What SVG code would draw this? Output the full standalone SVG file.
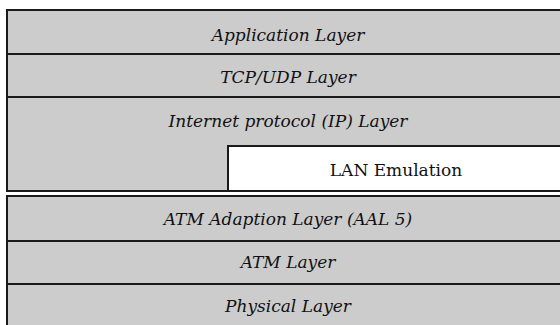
<svg xmlns="http://www.w3.org/2000/svg" width="560" height="325" viewBox="0 0 560 325">
<style>
.box{fill:#cccccc;stroke:#1a1a1a;stroke-width:2}
.sep{stroke:#1a1a1a;stroke-width:2;fill:none}
.lan{fill:#ffffff;stroke:#1a1a1a;stroke-width:2}
text{fill:#111;text-anchor:middle;font-size:17px;font-family:"DejaVu Serif",serif}
.t{font-style:italic}
</style>
<rect x="0" y="0" width="560" height="325" fill="#ffffff"/>
<g id="upper-stack">
<rect class="box" x="7" y="10" width="563" height="181"/>
</g>
<g id="lower-stack">
<rect class="box" x="7" y="196" width="563" height="140"/>
</g>
<g id="lane">
<rect class="lan" x="228" y="146" width="342" height="45"/>
<text x="396" y="176">LAN Emulation</text>
</g>
<g id="connectors">
<line class="sep" x1="7" y1="54" x2="570" y2="54"/>
<line class="sep" x1="7" y1="97" x2="570" y2="97"/>
<line class="sep" x1="7" y1="241" x2="570" y2="241"/>
<line class="sep" x1="7" y1="284" x2="570" y2="284"/>
</g>
<g id="application"><text class="t" x="288" y="41">Application Layer</text></g>
<g id="tcpudp"><text class="t" x="288" y="83">TCP/UDP Layer</text></g>
<g id="ip"><text class="t" x="288" y="127">Internet protocol (IP) Layer</text></g>
<g id="aal5"><text class="t" x="288" y="225">ATM Adaption Layer (AAL 5)</text></g>
<g id="atm"><text class="t" x="288" y="268">ATM Layer</text></g>
<g id="physical"><text class="t" x="288" y="312">Physical Layer</text></g>
</svg>
